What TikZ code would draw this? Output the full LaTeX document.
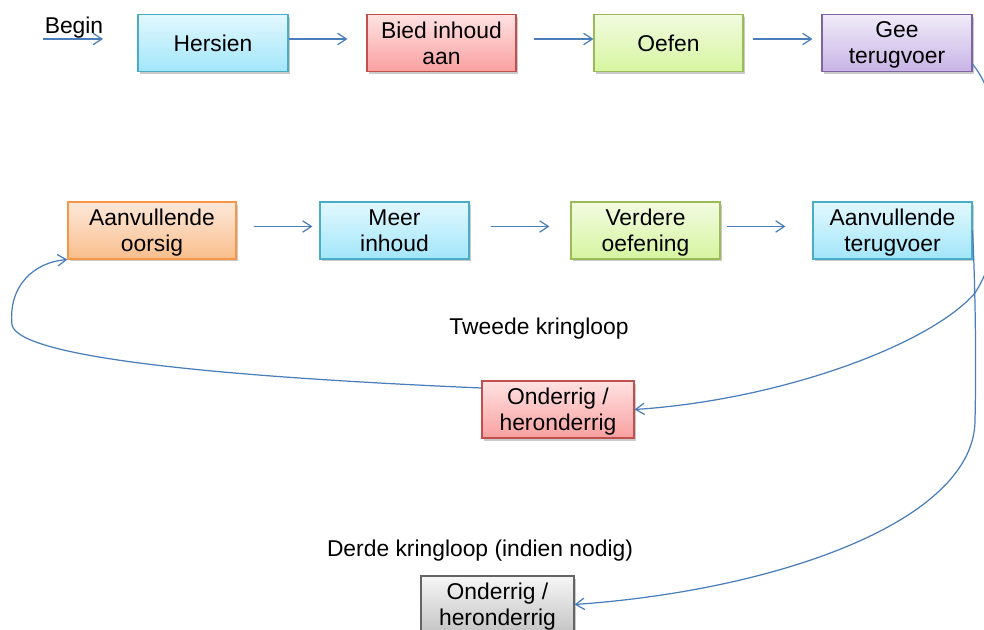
\documentclass[tikz,border=0pt]{standalone}
\usepackage{fontspec}
\setmainfont{Liberation Sans}
\usetikzlibrary{arrows.meta,shadows}
\definecolor{pylblou}{RGB}{74,126,187}
\definecolor{bloulyn}{RGB}{75,172,198}
\definecolor{bloubo}{RGB}{226,248,254}
\definecolor{blouonder}{RGB}{162,230,250}
\definecolor{rooilyn}{RGB}{192,80,77}
\definecolor{rooibo}{RGB}{255,226,226}
\definecolor{rooionder}{RGB}{250,160,160}
\definecolor{groenlyn}{RGB}{155,187,89}
\definecolor{groenbo}{RGB}{242,251,224}
\definecolor{groenonder}{RGB}{214,245,160}
\definecolor{perslyn}{RGB}{128,100,162}
\definecolor{persbo}{RGB}{240,235,248}
\definecolor{personder}{RGB}{200,180,230}
\definecolor{oranjelyn}{RGB}{247,150,70}
\definecolor{oranjebo}{RGB}{253,232,218}
\definecolor{oranjeonder}{RGB}{250,190,140}
\definecolor{gryslyn}{RGB}{100,100,100}
\definecolor{grysbo}{RGB}{246,246,246}
\definecolor{grysonder}{RGB}{196,196,196}
\begin{document}
\begin{tikzpicture}[x=0.02cm,y=-0.02cm,font=\fontsize{13}{14.8}\selectfont,
  blok/.style={rectangle,draw,align=center,minimum height=1.14cm,inner sep=1pt,line width=.6pt,
    text depth=0pt,
    drop shadow={shadow xshift=.04cm,shadow yshift=-.05cm,opacity=.35,fill=black!60}},
  blou/.style={blok,draw=bloulyn,top color=bloubo,bottom color=blouonder},
  rooi/.style={blok,draw=rooilyn,top color=rooibo,bottom color=rooionder},
  groen/.style={blok,draw=groenlyn,top color=groenbo,bottom color=groenonder},
  pers/.style={blok,draw=perslyn,top color=persbo,bottom color=personder},
  oranje/.style={blok,draw=oranjelyn,top color=oranjebo,bottom color=oranjeonder},
  grys/.style={blok,draw=gryslyn,top color=grysbo,bottom color=grysonder},
  pyl/.style={draw=pylblou,line width=.7pt,-{Straight Barb[length=5pt,width=6.5pt]}},
  ry/.style={transform canvas={yshift=.08cm}}]
\useasboundingbox (0,0) rectangle (984,629);
\clip (0,0) rectangle (984,629);
\node[blou,minimum width=3cm] (hersien) at (213,43) {Hersien};
\node[rooi,minimum width=2.98cm] (bied) at (441.5,43) {Bied inhoud\\aan};
\node[groen,minimum width=2.98cm] (oefen) at (668.5,43) {Oefen};
\node[pers,minimum width=3cm] (gee) at (897,43) {Gee\\terugvoer};
\node[oranje,minimum width=3.36cm] (oorsig) at (152,230.5) {Aanvullende\\oorsig};
\node[blou,minimum width=2.98cm] (meer) at (394.5,230.5) {Meer\\inhoud};
\node[groen,minimum width=2.98cm] (verdere) at (645.5,230.5) {Verdere\\oefening};
\node[blou,minimum width=3.18cm] (aanterug) at (892.5,230.5) {Aanvullende\\terugvoer};
\node[rooi,minimum width=3.04cm] (onderrig) at (558,409.5) {Onderrig /\\heronderrig};
\node[grys,minimum width=3.06cm] (onderrigb) at (497.5,604.5) {Onderrig /\\heronderrig};
\node (tweede) at (539,329) {Tweede kringloop};
\node (derde) at (480,551) {Derde kringloop (indien nodig)};
\node (begin) at (74,28) {Begin};
\coordinate (b0) at (43,39);
\coordinate (b1) at (103,39);
\draw[pyl] (b0) -- (b1);
\draw[pyl,ry,shorten >=.38cm] (hersien) -- (bied);
\draw[pyl,ry,shorten <=.34cm] (bied) -- (oefen);
\draw[pyl,ry,shorten <=.18cm,shorten >=.18cm] (oefen) -- (gee);
\draw[pyl,ry,shorten <=.34cm,shorten >=.14cm] (oorsig) -- (meer);
\draw[pyl,ry,shorten <=.42cm,shorten >=.42cm] (meer) -- (verdere);
\draw[pyl,ry,shorten <=.12cm,shorten >=.54cm] (verdere) -- (aanterug);
\draw[pyl] ([yshift=.16cm]gee.south east) .. controls (1010,110) and (1015,230) .. (975,293)
  .. controls (930,345) and (780,400) .. (onderrig.east);
\draw[pyl] (aanterug.east) .. controls (976,300) and (976,380) .. (975,420)
  .. controls (975,520) and (780,590) .. (onderrigb.east);
\draw[pyl] ([yshift=.43cm]onderrig.west) .. controls (250,378) and (20,360) .. (12,325)
  .. controls (8,285) and (35,262) .. (oorsig.south west);
\end{tikzpicture}
\end{document}
